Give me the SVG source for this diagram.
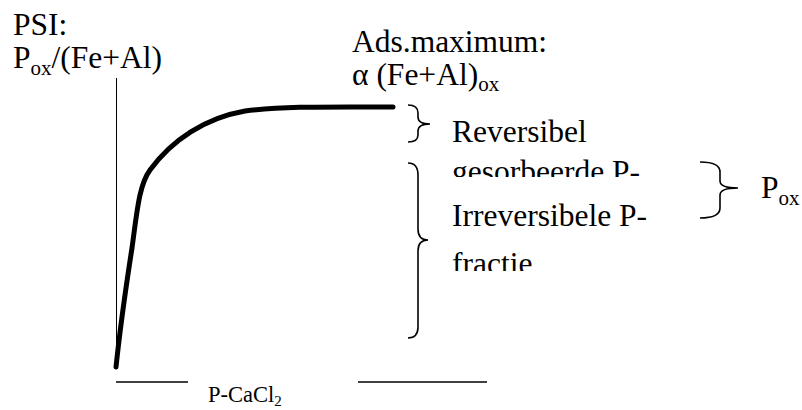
<svg xmlns="http://www.w3.org/2000/svg" width="802" height="410" viewBox="0 0 802 410">
<style>
text{font-family:'Liberation Serif','Times New Roman',Tinos,'DejaVu Serif',serif;fill:#000;font-size:31.5px}
.sub{font-size:21px}
.ln{stroke:#000;fill:none}
.brace{stroke:#000;fill:none;stroke-width:1.6}
</style>
<defs>
<clipPath id="c1"><rect x="440" y="140" width="220" height="37"/></clipPath>
<clipPath id="c2"><rect x="440" y="195" width="220" height="76"/></clipPath>
</defs>
<rect width="802" height="410" fill="#fff"/>
<g id="axes">
<line class="ln" x1="116.5" y1="78" x2="116.5" y2="367" stroke-width="1"/>
<line class="ln" x1="116" y1="382" x2="188" y2="382" stroke-width="1.4"/>
<line class="ln" x1="358" y1="382" x2="487" y2="382" stroke-width="1.4"/>
</g>
<g id="curve">
<path class="ln" stroke-width="5" stroke-linecap="round" d="M116,367 C121,320 127,280 132,248 C137,212 139,185 150,170 C172,140 205,118 245,111 C285,106 330,107 393,107"/>
</g>
<g id="ylabel">
<text x="13" y="35">PSI:</text>
<text x="13" y="68">P<tspan class="sub" dy="7">ox</tspan><tspan dy="-7">/(Fe+Al)</tspan></text>
</g>
<g id="adsmax">
<text x="352" y="52">Ads.maximum:</text>
<text x="352" y="85">α (Fe+Al)<tspan class="sub" dy="6">ox</tspan></text>
</g>
<g id="connectors">
<path class="brace" d="M408,105 Q418,105 418,113 L418,117 Q418,124 430,124 Q418,124 418,131 L418,135 Q418,142 408,142"/>
<path class="brace" d="M408,163 Q418,163 418,175 L418,229 Q418,240 428,240 Q418,240 418,251 L418,327 Q418,338 408,338"/>
<path class="brace" d="M700,162 Q720,162 720,172 L720,181 Q720,188 738,188 Q720,188 720,195 L720,208 Q720,218 700,218"/>
</g>
<g id="reversibel">
<text x="452" y="142">Reversibel</text>
<text x="452" y="182" clip-path="url(#c1)">gesorbeerde P-</text>
</g>
<g id="irreversibel">
<text x="452" y="226" clip-path="url(#c2)">Irreversibele P-<tspan x="452" y="274">fractie</tspan></text>
</g>
<g id="pox">
<text x="761" y="198">P<tspan class="sub" dy="7">ox</tspan></text>
</g>
<g id="xlabel">
<text x="208" y="402" style="font-size:22.5px">P-CaCl<tspan style="font-size:15px" dy="4">2</tspan></text>
</g>
</svg>
